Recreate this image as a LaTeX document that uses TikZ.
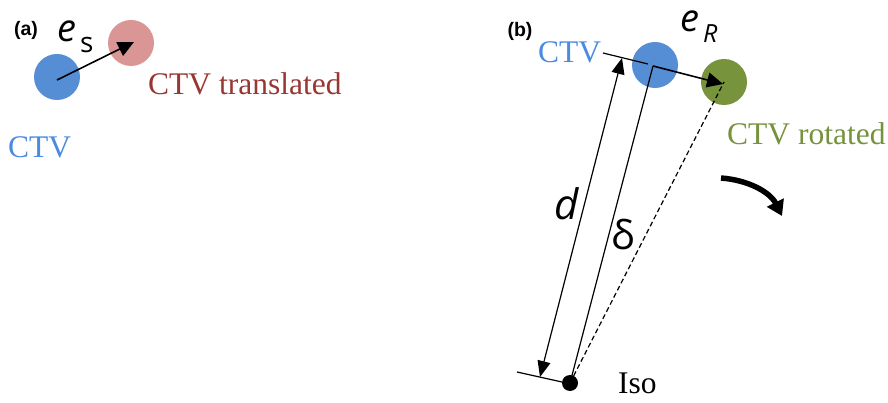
\documentclass[tikz,border=0pt]{standalone}
\usepackage{fontspec}
\setmainfont{Liberation Serif}
\newfontfamily\labfont{Liberation Sans}
\newfontfamily\symfont{Open Sans}
\usetikzlibrary{arrows.meta}
\definecolor{ctvblue}{HTML}{558ED5}
\definecolor{ctvpink}{HTML}{D99694}
\definecolor{ctvgreen}{HTML}{77933C}
\definecolor{txtblue}{HTML}{4A8AE0}
\definecolor{txtred}{HTML}{983634}
\definecolor{txtgreen}{HTML}{76923C}
\begin{document}
\begin{tikzpicture}[x=1pt,y=-1pt,
  disc/.style={circle,inner sep=0pt,minimum size=46pt,fill=#1},
  lbl/.style={inner sep=0pt,anchor=base west,font=\fontsize{31.5}{34}\selectfont},
  panel/.style={inner sep=0pt,font=\labfont\bfseries\fontsize{19.5}{21}\selectfont},
  sym/.style={inner sep=0pt,anchor=base west},
  thin/.style={line width=1.2pt},
  arr/.style={-{Triangle[length=16pt,width=15pt]}}
]
\useasboundingbox (0,0) rectangle (888,403);
% panel (a)
\node[panel] (pa) at (26,30) {(a)};
\node[disc=ctvblue] (ba) at (57,77) {};
\node[disc=ctvpink] (pk) at (131,43) {};
\coordinate (bac) at (57,80);
\coordinate (pkc) at (134,42);
\draw[line width=1.6pt,arr] (bac) -- (pkc);
\node[sym,font=\symfont\itshape\fontsize{38}{40}\selectfont] (es) at (57,42) {e};
\node[sym,font=\symfont\fontsize{28}{30}\selectfont] (ess) at (80,53) {s};
\node[lbl,text=txtred] (ttr) at (148,95) {CTV translated};
\node[lbl,text=txtblue] (ctva) at (8,158) {CTV};
% panel (b)
\node[panel] (pb) at (520,31) {(b)};
\node[disc=ctvblue] (bb) at (655,65) {};
\node[disc=ctvgreen] (gb) at (724,82) {};
\node[circle,fill=black,inner sep=0pt,minimum size=16pt] (iso) at (570,383) {};
\node[lbl,text=txtblue] (ctvb) at (538,63) {CTV};
\node[lbl,text=txtgreen] (ctvr) at (727,145) {CTV rotated};
\node[lbl,text=black] (isol) at (618,393) {Iso};
\node[sym,font=\symfont\itshape\fontsize{38}{40}\selectfont] (er) at (680,32) {e};
\node[sym,font=\symfont\itshape\fontsize{25}{28}\selectfont] (erR) at (703,43) {R};
\node[sym,font=\symfont\itshape\fontsize{42}{44}\selectfont] (dl) at (554,220) {d};
\node[sym,font=\symfont\fontsize{40}{44}\selectfont] (dell) at (611,250) {δ};
% geometry
\coordinate (t1) at (603,53);
\coordinate (t2) at (648,64);
\coordinate (dtop) at (622,58);
\coordinate (dbot) at (540,377);
\coordinate (b1) at (517,372);
\coordinate (b2) at (562,382);
\coordinate (ptop) at (653,66);
\coordinate (gtip) at (723,84);
\draw[thin] (t1) -- (t2);
\draw[thin] (b1) -- (b2);
\draw[thin,{Triangle[length=16pt,width=13pt]}-{Triangle[length=16pt,width=13pt]}] (dbot) -- (dtop);
\draw[thin] (iso.center) -- (ptop);
\draw[line width=1.6pt,arr] (ptop) -- (gtip);
\draw[thin,dashed,dash pattern=on 5pt off 3pt] (iso.center) -- (gb.center);
% rotation arrow
\coordinate (r1) at (721,178);
\coordinate (r2) at (782,216);
\draw[line width=5.5pt,-{Triangle[length=15pt,width=18pt]}] (r1) .. controls (748,180) and (770,192) .. (r2);
\end{tikzpicture}
\end{document}
